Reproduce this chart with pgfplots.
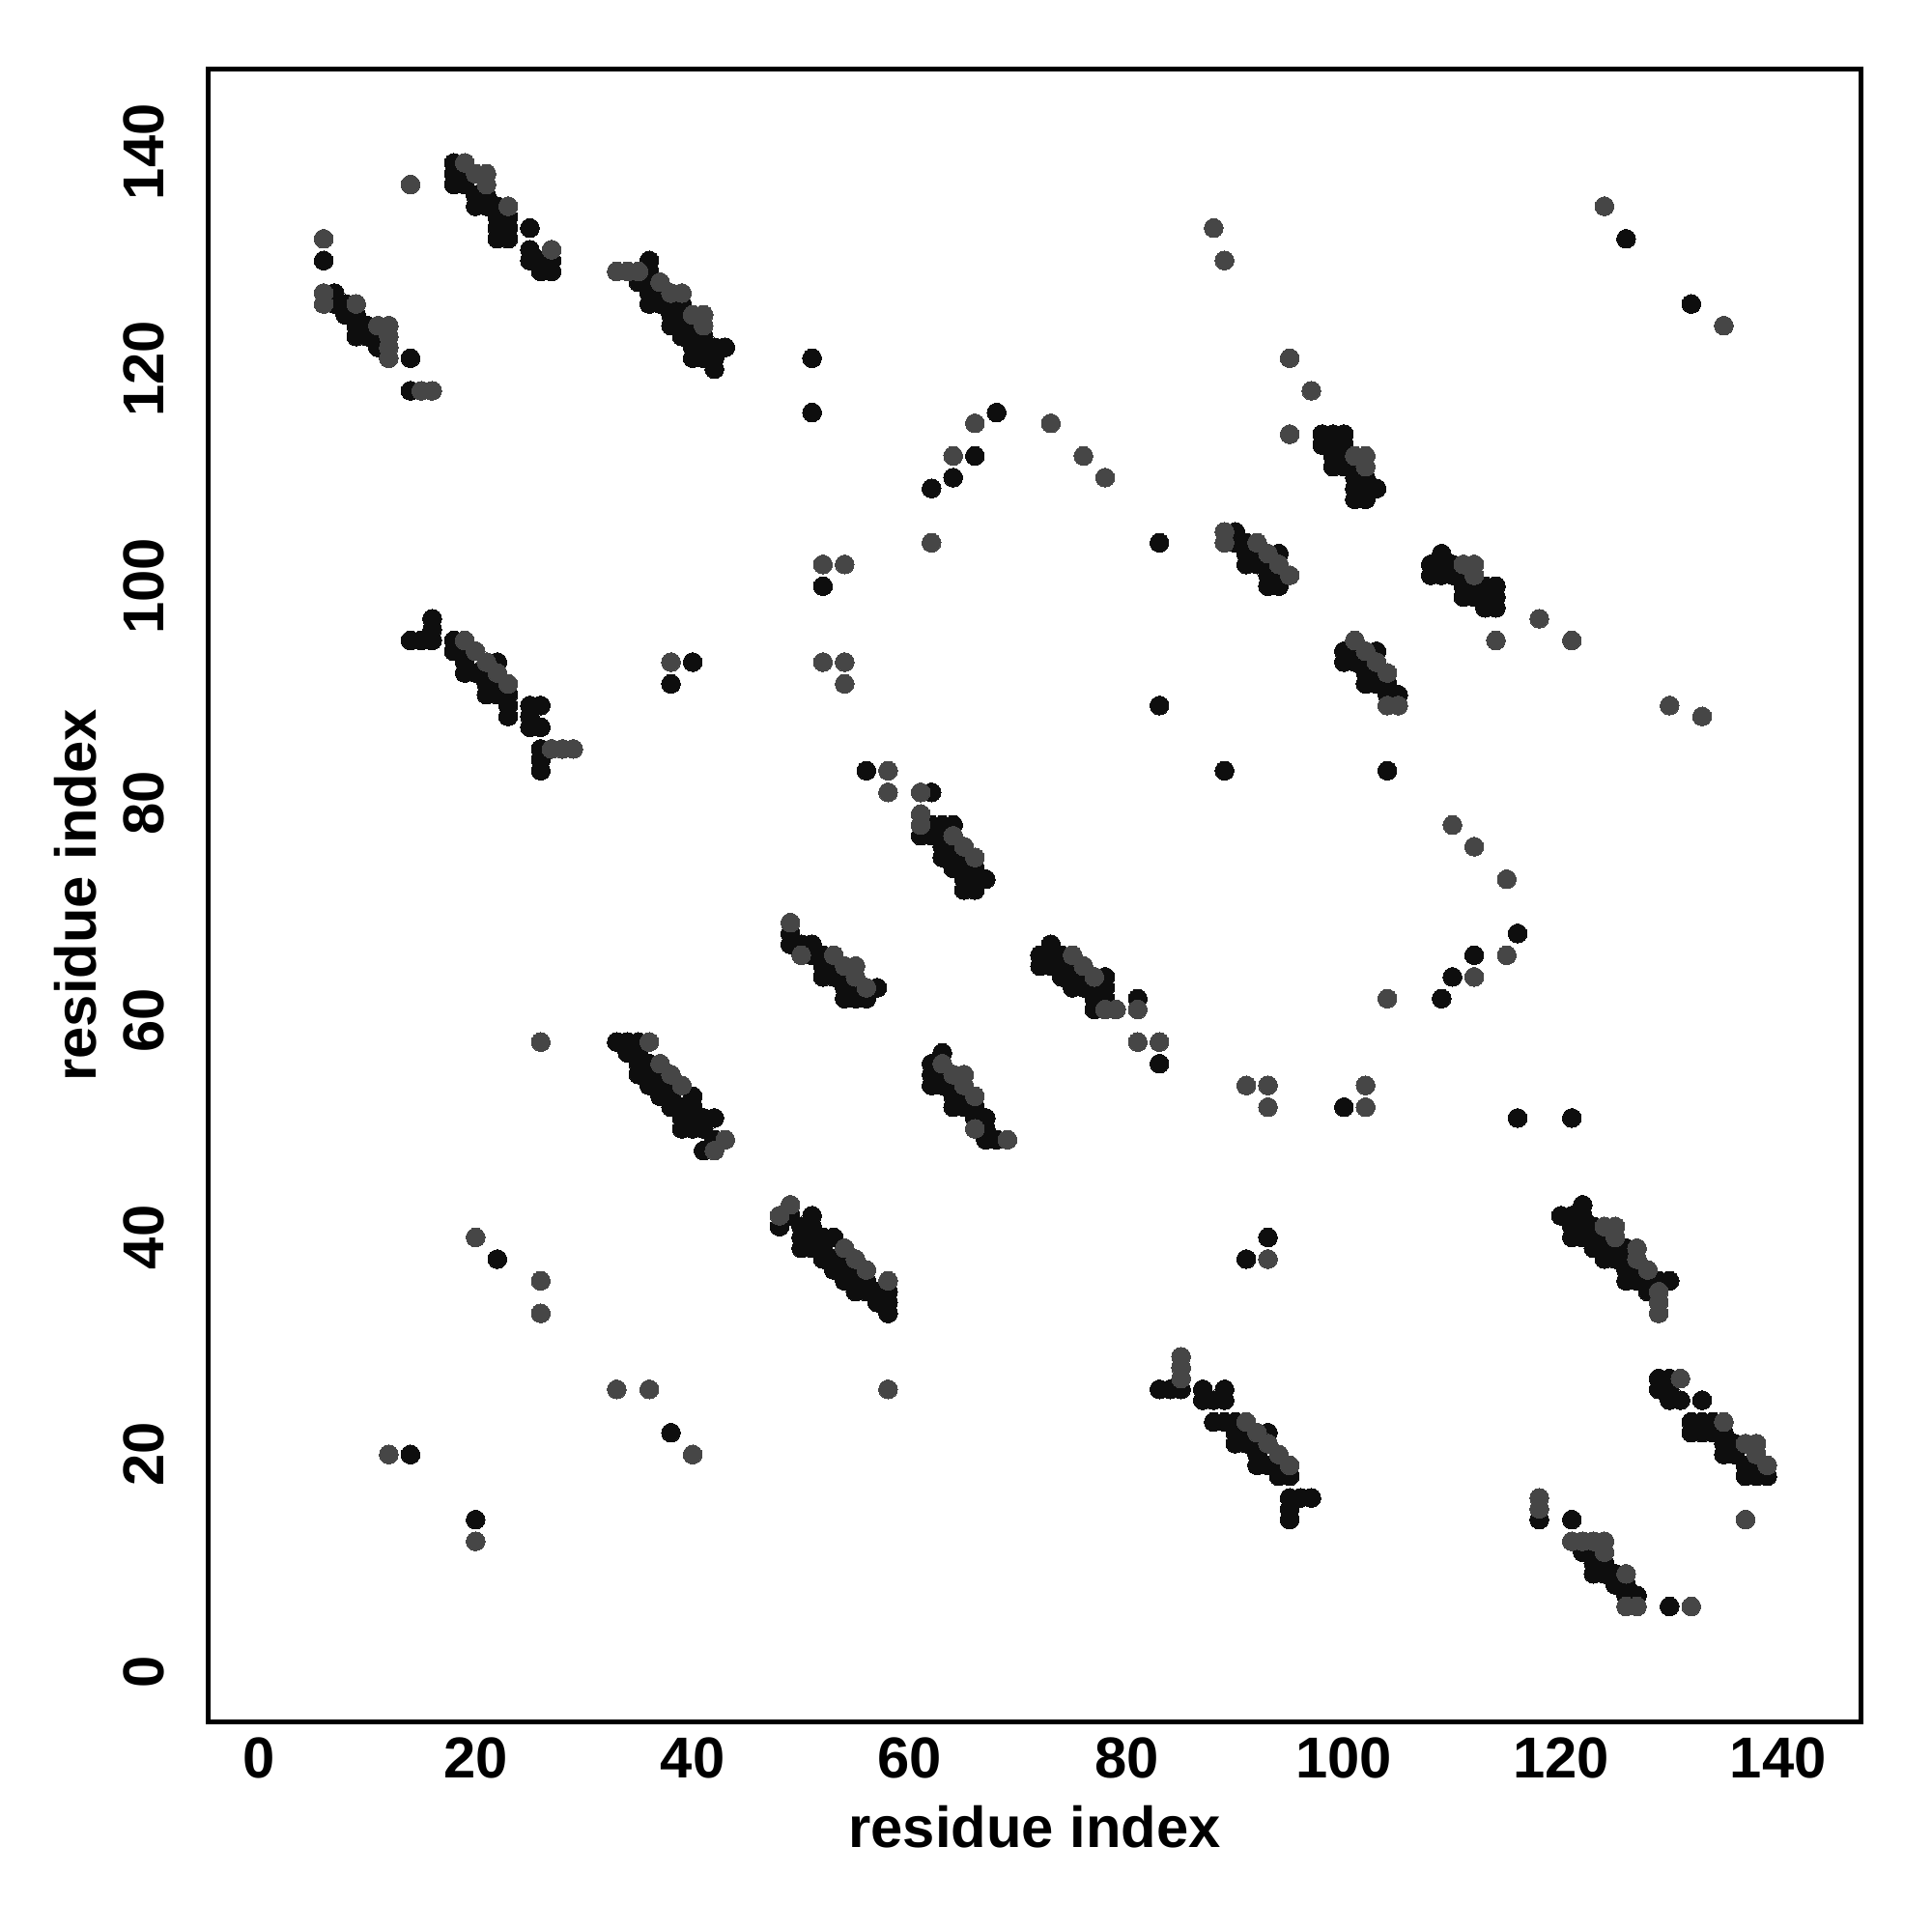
\documentclass[border=0pt]{standalone}
\usepackage{fontspec}
\setmainfont{Liberation Sans}
\usepackage{pgfplots}
\pgfplotsset{compat=1.18}
\usepackage{pgfplotstable}
\definecolor{cD}{HTML}{0E0E0E}
\definecolor{cG}{HTML}{464646}
% upper-triangle contacts (x<y); the map is symmetric, mirrored in the plot
\pgfplotstableread{
x y
6 127
6 126
9 126
11 124
12 124
12 123
12 122
12 121
6 132
19 139
20 138
21 137
21 138
23 135
27 131
14 137
33 129
34 129
35 129
37 128
38 127
39 127
40 125
41 125
41 124
19 95
20 94
21 93
22 92
23 91
27 85
28 85
29 85
36 58
37 56
38 55
39 54
43 49
42 48
49 69
50 66
53 66
54 65
55 65
55 64
56 63
61 81
61 79
61 78
64 77
65 76
66 75
89 105
89 104
92 104
93 103
94 102
95 101
101 112
102 112
102 111
15 118
16 118
62 104
64 112
66 115
73 115
76 112
78 110
88 133
89 130
95 121
97 118
95 114
124 135
12 20
20 40
26 36
26 33
26 58
38 93
52 93
54 93
54 91
52 102
54 102
58 83
58 81
}\tabG
\pgfplotstableread{
x y
7 127
7 126
8 126
8 125
9 125
9 124
9 123
10 124
10 123
11 123
11 122
6 130
18 139
18 138
18 137
19 138
19 137
20 136
20 135
21 136
21 135
22 135
22 134
23 134
22 133
23 133
22 132
23 132
25 133
25 131
25 130
26 130
26 129
27 129
27 130
36 130
36 129
35 128
36 128
36 127
37 127
36 126
37 126
38 126
38 125
38 124
39 125
39 124
39 126
40 124
40 123
41 123
39 123
40 122
41 122
40 121
41 121
42 120
42 121
42 122
43 122
14 95
15 95
16 95
16 96
16 97
18 95
18 94
19 94
19 93
22 93
19 92
20 92
21 92
21 91
22 91
21 90
22 90
23 90
23 89
23 88
25 89
26 89
25 88
25 87
26 87
26 85
26 84
26 83
33 58
34 58
35 58
34 57
35 57
35 56
35 55
36 55
36 56
36 54
37 55
37 54
37 53
38 53
38 54
39 52
38 52
40 53
40 52
39 51
40 51
39 50
40 50
41 51
42 51
41 50
42 49
41 48
49 68
49 67
50 67
51 67
51 66
52 66
52 65
53 65
52 64
53 64
54 64
54 63
55 63
57 63
54 62
55 62
56 62
62 81
61 77
62 78
63 78
64 78
62 77
63 77
63 76
64 76
63 75
64 75
65 75
65 74
64 74
66 74
65 73
66 73
67 73
65 72
66 72
90 105
90 104
91 104
91 103
92 103
94 103
91 102
92 102
93 102
93 101
94 101
93 100
94 100
98 114
99 114
100 114
98 113
99 113
100 113
99 112
100 112
99 111
100 111
101 111
101 110
102 110
102 109
103 109
101 109
101 108
102 108
14 121
14 118
51 121
51 116
62 109
64 110
66 112
68 116
83 104
83 89
126 132
14 20
22 38
38 91
40 93
52 100
56 83
}\tabD
\begin{document}
\begin{tikzpicture}
\begin{axis}[
  scale only axis,
  width=13.688cm, height=13.688cm,
  xmin=-4.64, xmax=147.64, ymin=-4.64, ymax=147.64,
  xtick={0,20,...,140}, ytick={0,20,...,140},
  major tick length=0pt,
  axis line style={line width=1.3pt},
  /pgf/number format/assume math mode=true,
  ticklabel style={font=\fontsize{13.6}{16}\selectfont\bfseries},
  xticklabel style={anchor=base, inner sep=0pt},
  yticklabel style={rotate=90, anchor=base, inner sep=0pt},
  xticklabel shift=13.1pt,
  yticklabel shift=10.4pt,
]
\addplot[only marks, mark=*, mark size=2.22pt, color=cD, mark options={line width=0pt}] table {\tabD};
\addplot[only marks, mark=*, mark size=2.22pt, color=cD, mark options={line width=0pt}] table[x=y, y=x] {\tabD};
\addplot[only marks, mark=*, mark size=2.22pt, color=cG, mark options={line width=0pt}] table {\tabG};
\addplot[only marks, mark=*, mark size=2.22pt, color=cG, mark options={line width=0pt}] table[x=y, y=x] {\tabG};
\coordinate (SW) at (rel axis cs:0,0);
\coordinate (NE) at (rel axis cs:1,1);
\coordinate (B) at (rel axis cs:0.5,0);
\coordinate (L) at (rel axis cs:0,0.5);
\end{axis}
\node[anchor=base, inner sep=0pt, font=\fontsize{13.6}{16}\selectfont\bfseries] at ([yshift=-29.6pt]B) {residue index};
\node[rotate=90, anchor=base, inner sep=0pt, font=\fontsize{13.6}{16}\selectfont\bfseries] at ([xshift=-26.3pt]L) {residue index};
\path ([xshift=-1.724cm,yshift=-1.738cm]SW) rectangle ([xshift=0.588cm,yshift=0.572cm]NE);
\end{tikzpicture}
\end{document}
